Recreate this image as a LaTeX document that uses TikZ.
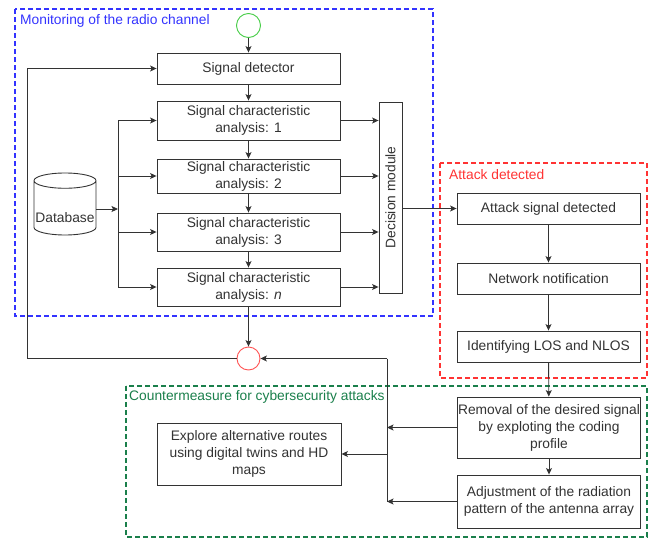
\documentclass[tikz,border=0pt]{standalone}
\usepackage{fontspec}
\setmainfont{Liberation Sans}
\usepackage{tikz}
\usetikzlibrary{arrows.meta, shapes.geometric, positioning, calc}

\definecolor{traitgris}{HTML}{333333}
\definecolor{bleucadre}{HTML}{3333FF}
\definecolor{rougecadre}{HTML}{FF3333}
\definecolor{vertcadre}{HTML}{1A7F4B}
\definecolor{vertcercle}{HTML}{44CC44}
\definecolor{rougecercle}{HTML}{FF5555}

\begin{document}
\begin{tikzpicture}[x=1pt, y=-1pt,
    font=\fontsize{13.8}{17}\selectfont, text=traitgris,
    bloc/.style={draw=traitgris, line width=0.9pt, fill=white, align=center, inner sep=1pt, minimum width=183pt},
    fleche/.style={draw=traitgris, line width=0.9pt, -{Stealth[length=6.5pt, width=6pt, inset=1.5pt]}},
    trait/.style={draw=traitgris, line width=0.9pt},
    cadre/.style={line width=1.6pt, dash pattern=on 5pt off 3pt},
    titre/.style={anchor=west, inner sep=0pt}]
    \useasboundingbox (0,0) rectangle (656,538);

    % Cadres
    \draw[cadre, draw=bleucadre, line width=2pt] (15,9) rectangle (433,316);
    \node[titre, text=bleucadre] (tmonit) at (20,21) {Monitoring of the radio channel};
    \draw[cadre, draw=rougecadre] (440,163) rectangle (647,378);
    \node[titre, text=rougecadre] (tattaque) at (449,175) {Attack detected};
    \draw[cadre, draw=vertcadre] (126,386) rectangle (647,537);
    \node[titre, text=vertcadre] (tcontre) at (129,397) {Countermeasure for cybersecurity attacks};

    % Surveillance du canal
    \node[circle, draw=vertcercle, line width=0.9pt, minimum size=24pt, inner sep=0pt] (debut) at (248.5,25.5) {};
    \node[bloc, minimum height=31pt] (det) at (248.5,68.5) {Signal detector};
    \foreach \i/\y/\h/\lab in {1/120.5/39/1, 2/176/34/2, 3/232/38/3, n/287/38/\textit{n}} {
        \node[bloc, minimum height=\h pt] (sca\i) at (248.5,\y) {Signal characteristic\\analysis: \lab};
    }
    \node[bloc, minimum width=23pt, minimum height=191pt] (dec) at (390.5,197.5) {\rotatebox{90}{Decision module}};
    \node[draw=traitgris, line width=0.9pt, cylinder, shape border rotate=90, aspect=0.25,
          minimum width=62pt, minimum height=62pt, inner sep=1pt,
          label={[yshift=-9pt, inner sep=0pt]center:Database}] (db) at (65,209) {\phantom{Database}};

    % Liaisons verticales
    \draw[fleche] (debut) -- (det);
    \foreach \a/\b in {det/sca1, sca1/sca2, sca2/sca3, sca3/scan} {
        \draw[fleche] (\a) -- (\b);
    }

    % Bus de la base de donnees
    \coordinate (busg) at (118,0);
    \draw[fleche] (db.east) -- (db.east -| busg);
    \draw[trait] (busg |- sca1) -- (busg |- scan);
    \foreach \i in {1,2,3,n} {
        \draw[fleche] (busg |- sca\i) -- (sca\i.west);
        \draw[fleche] (sca\i.east) -- (sca\i.east -| dec.west);
    }

    % Fusion et boucle
    \node[circle, draw=rougecercle, line width=0.9pt, minimum size=23pt, inner sep=0pt] (fusion) at (248.5,358.5) {};
    \coordinate (boucle) at (27,358.5);
    \draw[fleche] (scan) -- (fusion);
    \draw[fleche] (fusion.west) -- (boucle) |- (det.west);

    % Attaque detectee
    \node[bloc, minimum height=31pt] (att) at (548.5,208.5) {Attack signal detected};
    \node[bloc, minimum height=31pt] (notif) at (548.5,278.5) {Network notification};
    \node[bloc, minimum height=31pt] (los) at (548.5,346.5) {Identifying LOS and NLOS};
    \draw[fleche] (dec.east |- att.west) -- (att.west);

    % Contre-mesures
    \node[bloc, minimum height=61pt] (retrait) at (549,427.5) {Removal of the desired signal\\by exploting the coding\\profile};
    \node[bloc, minimum height=53pt] (antenne) at (549,501.5) {Adjustment of the radiation\\pattern of the antenna array};
    \node[bloc, minimum width=184pt, minimum height=62pt] (routes) at (249,454) {Explore alternative routes\\using digital twins and HD\\maps};
    \foreach \a/\b in {att/notif, notif/los, los/retrait, retrait/antenne} {
        \draw[fleche] (\a) -- (\b);
    }

    % Bus de droite
    \coordinate (busd) at (387,0);
    \draw[fleche] (retrait.west) -- (retrait.west -| busd);
    \draw[fleche] (antenne.west) -- (antenne.west -| busd);
    \draw[trait] (busd |- fusion) -- (busd |- antenne);
    \draw[fleche] (busd |- fusion) -- (fusion.east);
    \draw[fleche] (busd |- routes) -- (routes.east);

\end{tikzpicture}
\end{document}
